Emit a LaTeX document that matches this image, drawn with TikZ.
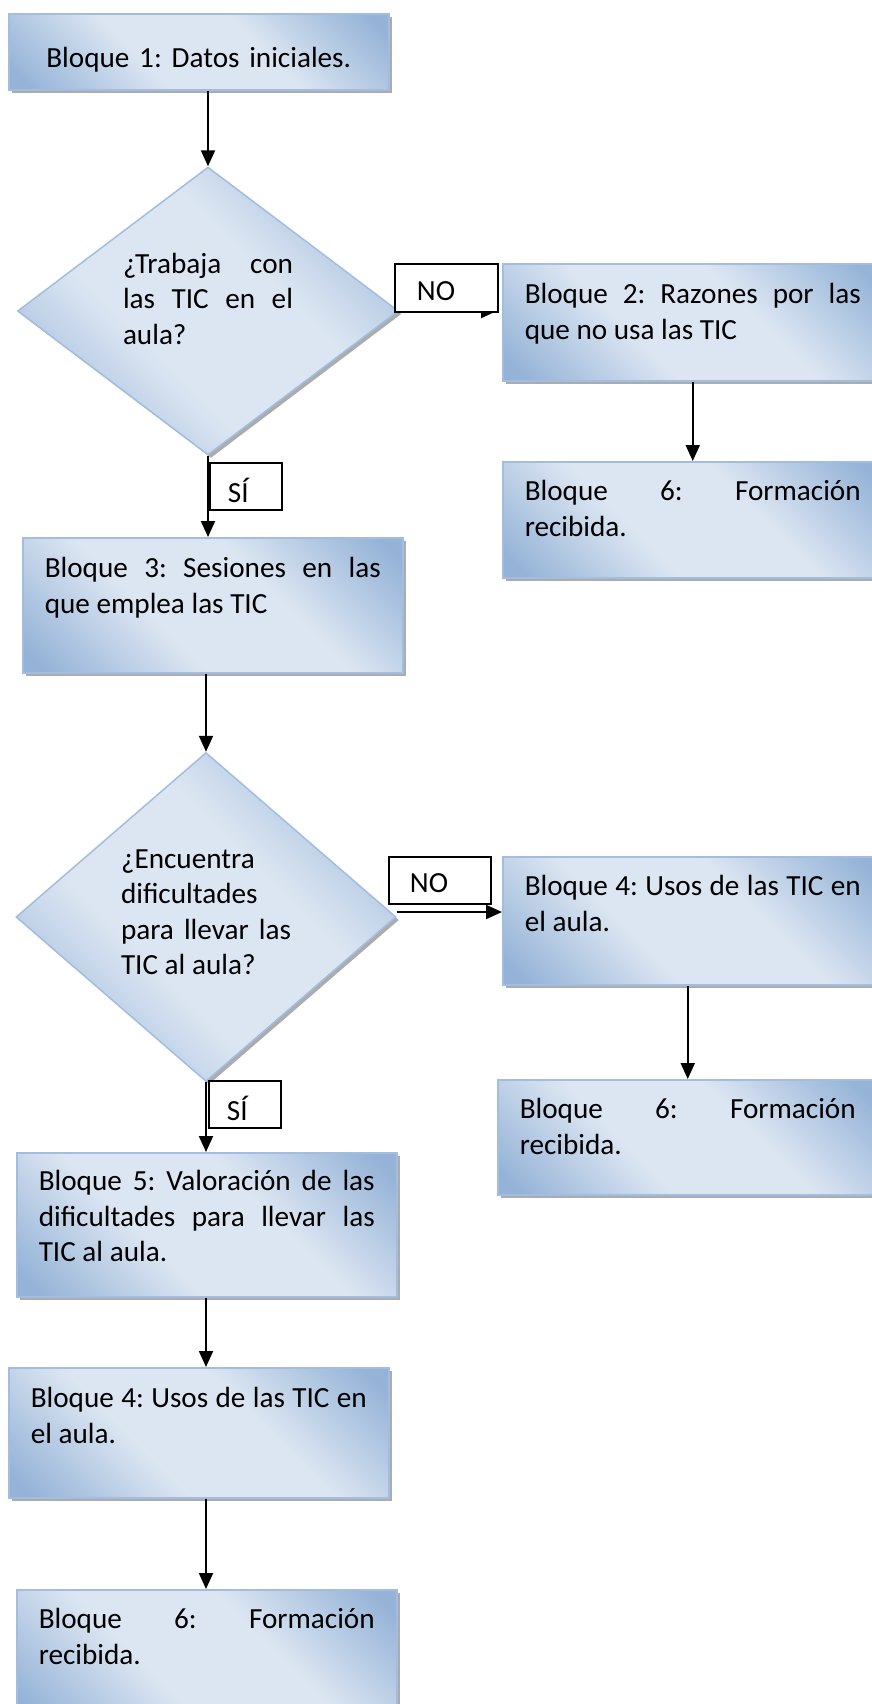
\documentclass[tikz,border=0pt]{standalone}
\usepackage{fontspec}
\setmainfont{Carlito}
\usetikzlibrary{arrows.meta,shapes.geometric,shadows}
\tikzset{>={Triangle[length=8pt,width=7pt]}}
\definecolor{azulosc}{HTML}{95B3D7}
\definecolor{azulcla}{HTML}{DCE6F2}
\definecolor{borde}{HTML}{A2BDE0}
\pgfdeclareverticalshading{degradado}{100bp}{color(0bp)=(azulosc); color(18bp)=(azulosc);
  color(40bp)=(azulcla); color(60bp)=(azulcla); color(82bp)=(azulosc); color(100bp)=(azulosc)}
\newcommand{\fuente}{\fontsize{14.6pt}{17.8pt}\selectfont\frenchspacing}
\tikzset{
  sombreado/.style={draw=borde, line width=0.75pt, shading=degradado, shading angle=-45,
    drop shadow={shadow xshift=1.5pt, shadow yshift=-1.5pt, fill=gray!65, opacity=1}},
  bloque/.style={sombreado, rectangle, anchor=north west, align=justify, text width=168pt,
    inner xsep=11pt, inner ysep=0pt, text height=20pt, text depth=#1, font=\fuente},
  bloque/.default=38.5pt,
  pregunta/.style={sombreado, diamond, inner sep=0pt, align=justify, text width=85pt,
    text height=10.5pt, font=\fuente},
  etiqueta/.style={draw, fill=white, line width=0.9pt, anchor=north west, align=left,
    inner ysep=0pt, font=\fuente},
  flecha/.style={->, line width=1pt},
}

\begin{document}
\begin{tikzpicture}[x=0.5pt, y=-0.5pt]
  \useasboundingbox (0,0) rectangle (872,1704);
  \clip (0,0) rectangle (872,1704);

  \node[bloque=11pt, align=center, text height=27pt] (b1) at (8,13) {Bloque 1: Datos iniciales.};
  \node[pregunta, minimum width=190.5pt, minimum height=144pt, text depth=48.5pt] (d1) at (208,311)
    {¿Trabaja con\linebreak las TIC en el\linebreak aula?};
  \node[bloque] (b2) at (502,263) {Bloque 2: Razones por las\linebreak que no usa las TIC};
  \node[bloque, text height=19.5pt] (b6a) at (502,461) {Bloque 6: Formación\linebreak recibida.};
  \node[bloque=47.5pt] (b3) at (22,537) {Bloque 3: Sesiones en las\linebreak que emplea las TIC};
  \node[pregunta, minimum width=190pt, minimum height=164.5pt, text depth=59.5pt] (d2) at (206,917)
    {¿Encuentra\newline dificultades\newline para llevar las\linebreak TIC al aula?};
  \node[bloque=44.5pt, text height=19.5pt] (b4) at (502,856) {Bloque 4: Usos de las TIC en\linebreak el aula.};
  \node[bloque=38pt, text height=19.5pt] (b6b) at (497,1079) {Bloque 6: Formación\linebreak recibida.};
  \node[bloque=53pt, text height=19pt] (b5) at (16,1152)
    {Bloque 5: Valoración de las\linebreak dificultades para llevar las\linebreak TIC al aula.};
  \node[bloque=45pt] (b6) at (8,1367) {Bloque 4: Usos de las TIC en\linebreak el aula.};
  \node[bloque=46pt, text height=19.5pt] (b7) at (16,1589) {Bloque 6: Formación\linebreak recibida.};

  \draw[flecha] (b1.south -| d1.north) -- (d1.north);
  \draw[flecha, shorten >=2.5pt] (d1.east) -- (d1.east -| b2.west);
  \draw[flecha] (b2.south) -- (b2.south |- b6a.north);
  \draw[flecha] (d1.south) -- (d1.south |- b3.north);
  \draw[flecha] (b3.south -| d2.north) -- (d2.north);
  \draw[flecha] ([yshift=2.5pt]d2.east) -- ([yshift=2.5pt]d2.east -| b4.west);
  \draw[flecha] (b6b.north |- b4.south) -- (b6b.north);
  \draw[flecha] (d2.south) -- (d2.south |- b5.north);
  \draw[flecha] (d2.south |- b5.south) -- (d2.south |- b6.north);
  \draw[flecha] (d2.south |- b6.south) -- (d2.south |- b7.north);

  \node[etiqueta, text width=29.5pt, inner xsep=11pt, text height=18.5pt, text depth=5.5pt] (no1) at (394,263) {NO};
  \node[etiqueta, text width=30pt, inner xsep=10.5pt, text height=18pt, text depth=5.5pt] (no2) at (388,856) {NO};
  \node[etiqueta, text width=18pt, inner xsep=9pt, text height=20pt, text depth=3.5pt] (si1) at (209,462) {SÍ};
  \node[etiqueta, text width=18pt, inner xsep=9pt, text height=20pt, text depth=3.5pt] (si2) at (208,1080) {SÍ};
\end{tikzpicture}
\end{document}
